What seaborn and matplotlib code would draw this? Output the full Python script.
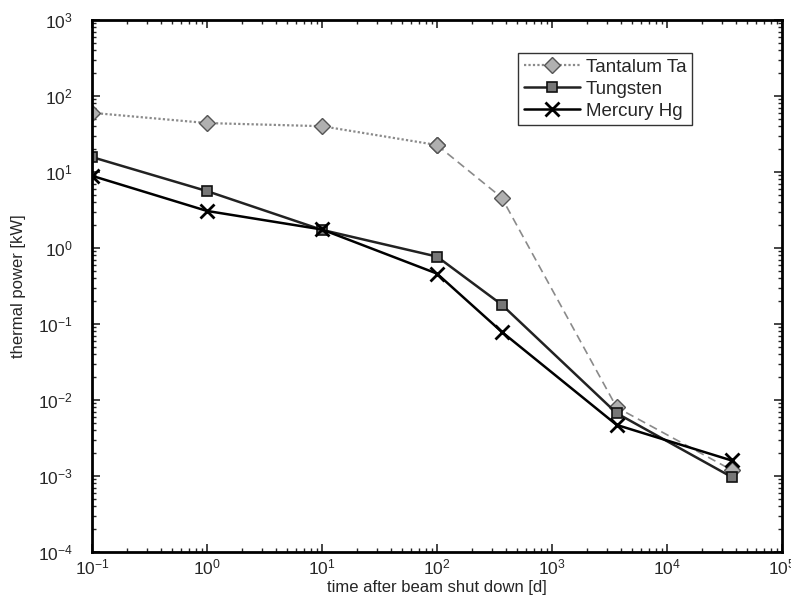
import numpy as np
import pandas as pd
import matplotlib
matplotlib.use("Agg")
import matplotlib.pyplot as plt
import seaborn as sns

# time after beam shut down [d]
days = [0.1, 1, 10, 100, 365, 3650, 36500]

# thermal power [kW]
tantalum = [60, 44, 40, 22.6, 4.6, 0.008, 0.0012]
tungsten = [15.7, 5.6, 1.73, 0.77, 0.18, 0.0067, 0.00097]
mercury = [8.9, 3.07, 1.75, 0.46, 0.079, 0.0047, 0.0016]

sns.set_style("ticks")
plt.rcParams["font.family"] = ["Liberation Sans", "DejaVu Sans"]

fig = plt.figure(figsize=(7.91, 6.06), dpi=100)
ax = fig.add_axes([0.1163, 0.0891, 0.8723, 0.878])

ta = pd.DataFrame({"t": days, "p": tantalum})
w = pd.DataFrame({"t": days, "p": tungsten})
hg = pd.DataFrame({"t": days, "p": mercury})

grey = "#8a8a8a"
# tantalum: dotted up to 100 d, dashed afterwards
sns.lineplot(data=ta.iloc[:4], x="t", y="p", ax=ax, color=grey, lw=1.6,
             linestyle=(0, (1, 1)), marker="D", ms=8, mfc="#b0b0b0",
             mec="#555555", mew=1.0, label="Tantalum Ta")
sns.lineplot(data=ta.iloc[3:], x="t", y="p", ax=ax, color=grey, lw=1.2,
             linestyle=(0, (5, 3)), marker="D", ms=8, mfc="#b0b0b0",
             mec="#555555", mew=1.0, legend=False)
sns.lineplot(data=w, x="t", y="p", ax=ax, color="#222222", lw=1.8,
             marker="s", ms=7, mfc="#777777", mec="#111111", mew=1.2,
             label="Tungsten")
sns.lineplot(data=hg, x="t", y="p", ax=ax, color="black", lw=1.8,
             marker="x", ms=10, mec="black", mew=2.0, label="Mercury Hg")

ax.set_xscale("log")
ax.set_yscale("log")
ax.set_xlim(1e-1, 1e5)
ax.set_ylim(1e-4, 1e3)
ax.set_xlabel("time after beam shut down [d]", fontsize=12, labelpad=2)
ax.set_ylabel("thermal power [kW]", fontsize=12, labelpad=8)

ax.tick_params(which="both", direction="in", top=True, right=True, labelsize=12.5)
ax.tick_params(axis="y", which="major", pad=14)
ax.tick_params(axis="x", which="major", pad=4)
ax.tick_params(which="major", length=6, width=1.2)
ax.tick_params(which="minor", length=3, width=1.0)
for s in ax.spines.values():
    s.set_linewidth(2.0)
    s.set_color("black")

leg = ax.legend(loc="upper right", bbox_to_anchor=(0.883, 0.955), fontsize=13.5,
                frameon=True, fancybox=False, edgecolor="black",
                handlelength=3.0, borderpad=0.3, labelspacing=0.25,
                handletextpad=0.3)
leg.get_frame().set_linewidth(1.0)

fig.savefig("out.png", dpi=100)
